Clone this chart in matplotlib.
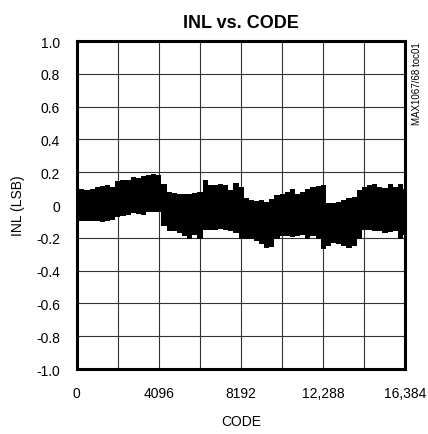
import matplotlib
matplotlib.use("Agg")
import matplotlib.pyplot as plt
import numpy as np

# envelope of the INL trace, every 256 codes
codes = np.arange(0, 16385, 256)

inl_upper = [0.07, 0.10, 0.09, 0.10, 0.11, 0.115, 0.12, 0.11,
             0.145, 0.15, 0.155, 0.17, 0.165, 0.175, 0.18, 0.19,
             0.18, 0.13, 0.08, 0.075, 0.07, 0.066, 0.07, 0.075,
             0.08, 0.155, 0.12, 0.125, 0.13, 0.125, 0.09, 0.135,
             0.11, 0.04, 0.03, 0.025, 0.03, 0.02, 0.035, 0.06,
             0.07, 0.08, 0.095, 0.07, 0.08, 0.095, 0.11, 0.115,
             0.12, 0.01, 0.015, 0.02, 0.03, 0.04, 0.05, 0.09,
             0.11, 0.12, 0.13, 0.11, 0.105, 0.13, 0.11, 0.13, 0.10]

inl_lower = [-0.10, -0.10, -0.095, -0.10, -0.10, -0.105, -0.10, -0.09,
             -0.075, -0.065, -0.06, -0.05, -0.055, -0.06, -0.045, -0.04,
             -0.045, -0.13, -0.16, -0.16, -0.17, -0.19, -0.21, -0.18,
             -0.21, -0.15, -0.15, -0.15, -0.145, -0.15, -0.16, -0.17,
             -0.21, -0.21, -0.21, -0.22, -0.24, -0.26, -0.255, -0.21,
             -0.19, -0.19, -0.195, -0.19, -0.185, -0.21, -0.19, -0.21,
             -0.27, -0.25, -0.23, -0.24, -0.25, -0.26, -0.25, -0.21,
             -0.15, -0.155, -0.16, -0.16, -0.17, -0.165, -0.16, -0.21, -0.18]

xticks = [0, 4096, 8192, 12288, 16384]
xtick_labels = ["0", "4096", "8192", "12,288", "16,384"]
yticks = np.round(np.arange(-1.0, 1.01, 0.2), 1)
ytick_labels = ["0" if abs(v) < 1e-9 else f"{v:.1f}" for v in yticks]

plt.rcParams["font.family"] = ["Liberation Sans Narrow", "Liberation Sans", "DejaVu Sans"]

fig = plt.figure(figsize=(4.28, 4.35), dpi=100)
ax = fig.add_axes([0.1792, 0.1494, 0.7682, 0.754])

ax.fill_between(codes, inl_lower, inl_upper, step="mid", color="black", lw=0, zorder=3)

ax.set_xlim(0, 16384)
ax.set_ylim(-1.0, 1.0)
ax.set_xticks(xticks)
ax.set_xticklabels(xtick_labels)
ax.set_xticks(np.arange(0, 16385, 2048), minor=True)
ax.set_yticks(yticks)
ax.set_yticklabels(ytick_labels)

ax.grid(True, which="both", color="#333333", lw=0.8, zorder=1)
ax.tick_params(which="both", length=0, labelsize=10, colors="black")
ax.tick_params(axis="y", pad=12)
ax.tick_params(axis="x", pad=12)
for s in ax.spines.values():
    s.set_linewidth(2.2)
    s.set_zorder(4)

ax.set_xlabel("CODE", fontsize=10, labelpad=10)
ax.set_ylabel("INL (LSB)", fontsize=10, labelpad=8)
ax.set_title("INL vs. CODE", fontsize=13, fontweight="bold", pad=10)

fig.text(0.975, 0.903, "MAX1067/68 toc01", rotation=90, fontsize=7,
         ha="center", va="top")

fig.savefig("out.png", dpi=100)
